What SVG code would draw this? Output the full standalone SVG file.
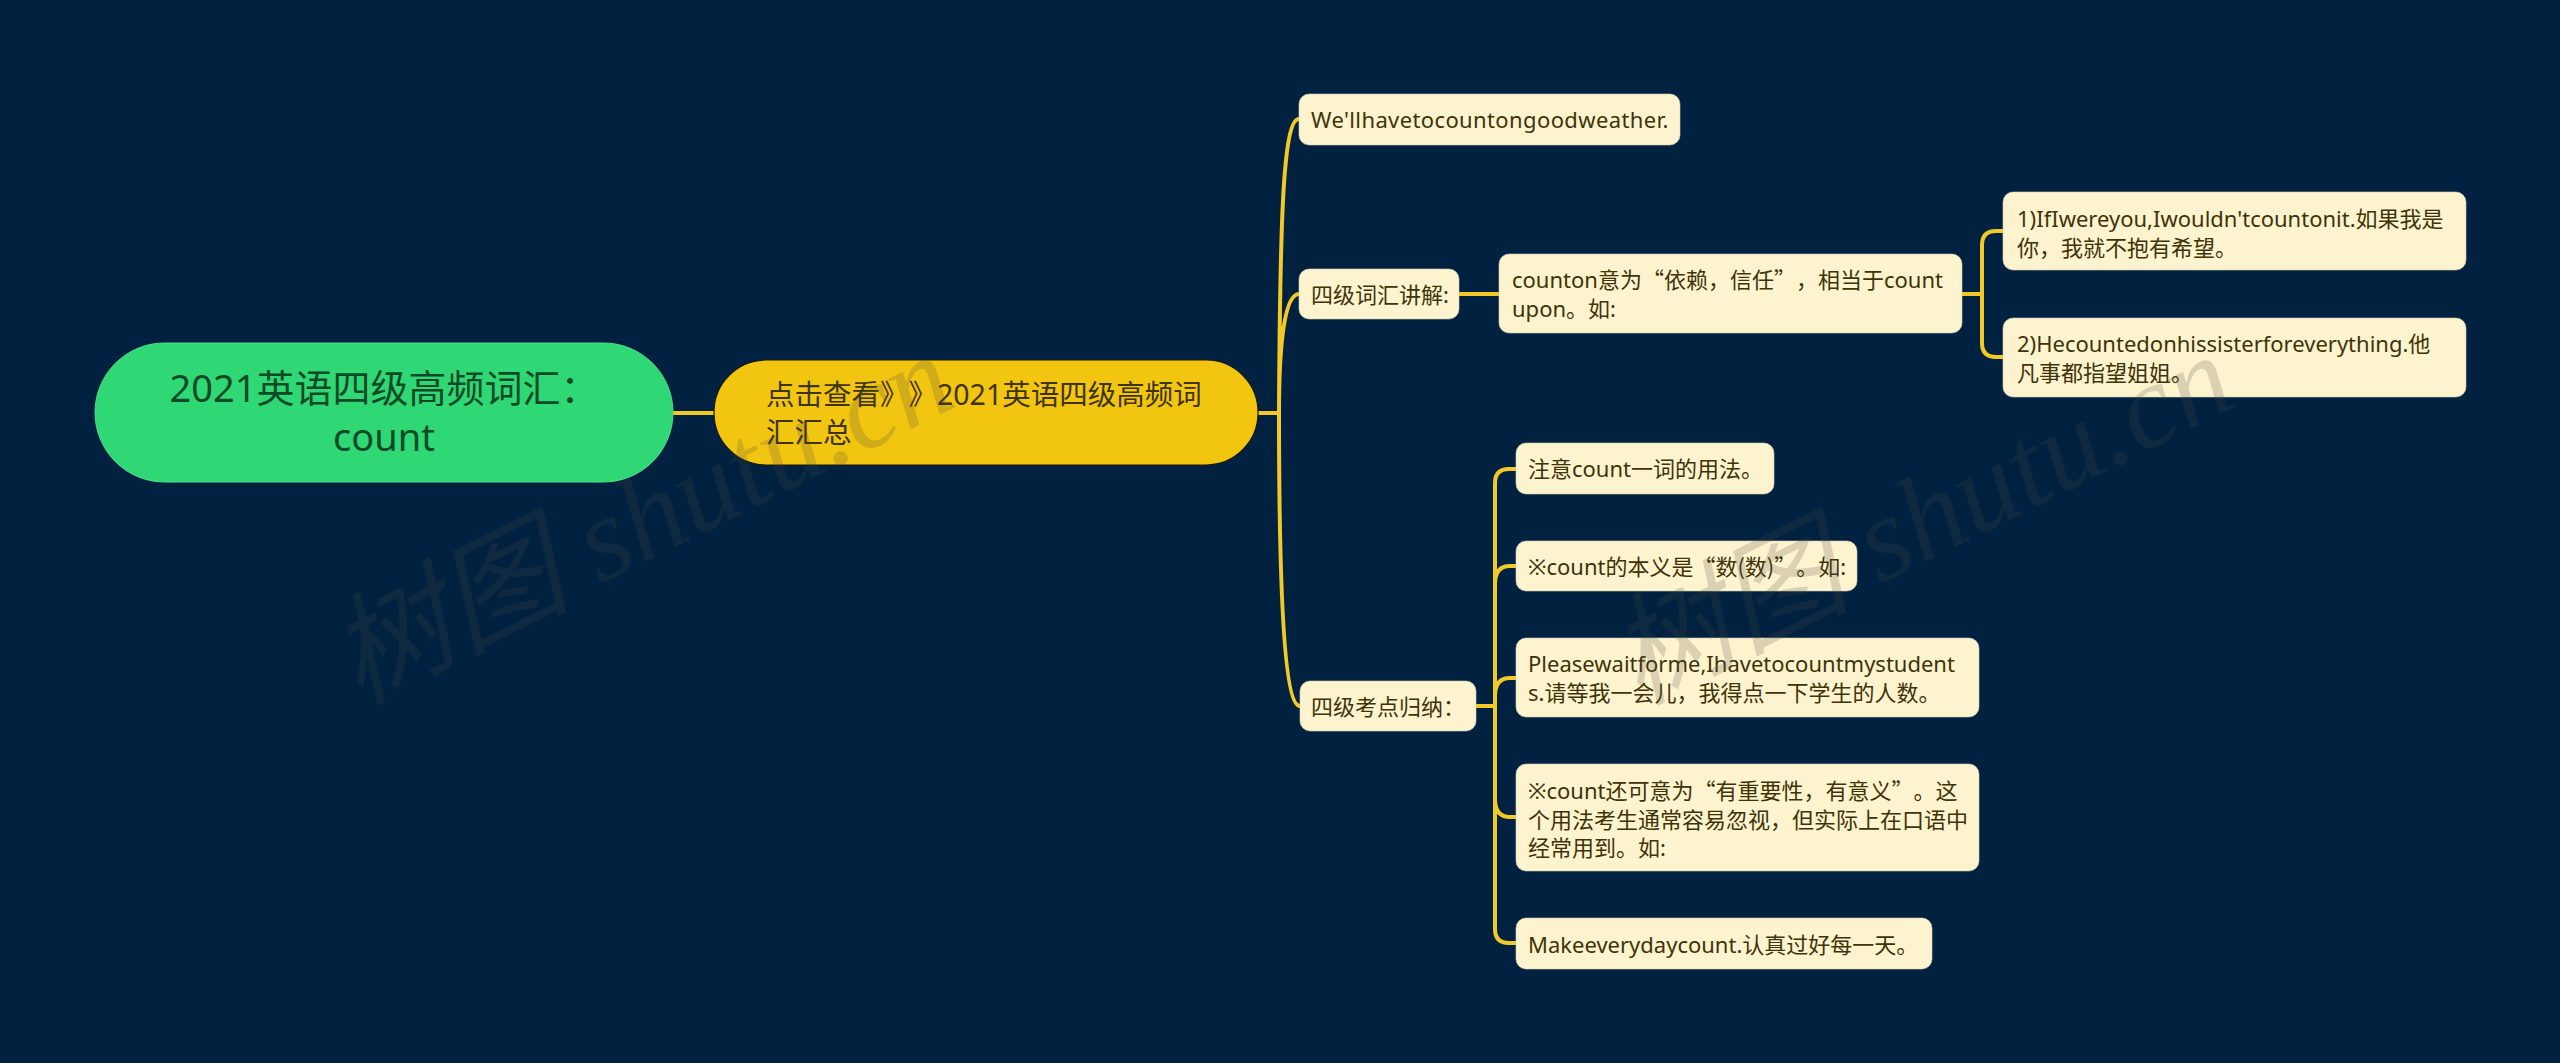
<svg xmlns="http://www.w3.org/2000/svg" width="2560" height="1063" viewBox="0 0 2560 1063">
<style>
text{font-family:"Noto Sans","Noto Sans CJK SC",sans-serif;text-spacing-trim:space-all}
.c{font-family:"Noto Sans CJK SC",sans-serif}
.n{fill:#fdf3cf;stroke:#d8d0b0;stroke-width:.6}
.t{font-size:22px;fill:#3f3308}
.l{fill:none;stroke:#f2c927;stroke-width:4}
.w{font-family:"Liberation Serif","Noto Sans CJK SC",serif;font-style:italic;font-size:120px;fill:#4a4a40;fill-opacity:.2}
</style>
<rect width="2560" height="1063" fill="#002240"/>
<g id="connectors">
<path class="l" d="M673 413H714M1258 413H1279"/>
<path class="l" d="M1279 413C1280 220 1283 119 1299 119M1279 413C1279 340 1285 294 1299 294M1279 413C1279 600 1285 706 1300 706"/>
<path class="l" d="M1459 294H1499M1962 294H1982M2003 231H1996Q1982 231 1982 245V343Q1982 357 1996 357H2003"/>
<path class="l" d="M1476 706H1495M1516 469H1509Q1495 469 1495 483V929Q1495 943 1509 943H1516M1516 566H1510Q1495 566 1495 584M1516 678H1510Q1495 678 1495 696M1516 817H1510Q1495 817 1495 799"/>
</g>
<g id="root"><rect x="95" y="343" width="578" height="139" rx="69.5" fill="#2fd874" stroke="#4fdf8a"/>
<text x="384" y="402" text-anchor="middle" font-size="38" fill="#0f4a26">2021英语四级高频词汇：</text>
<text x="384" y="451" text-anchor="middle" font-size="38" fill="#0f4a26">count</text></g>
<g id="summary"><rect x="714" y="360" width="544" height="105" rx="52" fill="#f2c511" stroke="#1a1a10" stroke-width="1.2"/>
<text x="766" y="405" font-size="28.5" fill="#3f3308">点击查看》》2021英语四级高频词</text>
<text x="766" y="443" font-size="28.5" fill="#3f3308">汇汇总</text></g>
<g id="n1"><rect class="n" x="1299" y="94" width="381" height="51" rx="10"/><text class="t" x="1311" y="128" letter-spacing=".38">We'llhavetocountongoodweather.</text></g>
<g id="n2"><rect class="n" x="1299" y="269" width="160" height="50" rx="10"/><text class="t" x="1311" y="303">四级词汇讲解:</text></g>
<g id="n3"><rect class="n" x="1499" y="254" width="463" height="79" rx="10"/><text class="t" x="1512" y="288">counton意为<tspan class="c">“依赖，信任”，</tspan>相当于count</text><text class="t" x="1512" y="317">upon。如:</text></g>
<g id="n4"><rect class="n" x="2003" y="192" width="463" height="78" rx="10"/><text class="t" x="2017" y="227">1)IfIwereyou,Iwouldn'tcountonit.如果我是</text><text class="t" x="2017" y="256">你，我就不抱有希望。</text></g>
<g id="n5"><rect class="n" x="2003" y="318" width="463" height="79" rx="10"/><text class="t" x="2017" y="352">2)Hecountedonhissisterforeverything.他</text><text class="t" x="2017" y="381">凡事都指望姐姐。</text></g>
<g id="n6"><rect class="n" x="1300" y="681" width="176" height="50" rx="10"/><text class="t" x="1311" y="715">四级考点归纳：</text></g>
<g id="n7"><rect class="n" x="1516" y="443" width="258" height="51" rx="10"/><text class="t" x="1528" y="477">注意count一词的用法。</text></g>
<g id="n8"><rect class="n" x="1516" y="541" width="341" height="50" rx="10"/><text class="t" x="1528" y="575">※count的本义是<tspan class="c">“数(数)”。</tspan>如:</text></g>
<g id="n9"><rect class="n" x="1516" y="638" width="463" height="79" rx="10"/><text class="t" x="1528" y="672">Pleasewaitforme,Ihavetocountmystudent</text><text class="t" x="1528" y="701">s.请等我一会儿，我得点一下学生的人数。</text></g>
<g id="n10"><rect class="n" x="1516" y="764" width="463" height="107" rx="10"/><text class="t" x="1528" y="799">※count还可意为<tspan class="c">“有重要性，有意义”。</tspan>这</text><text class="t" x="1528" y="828">个用法考生通常容易忽视，但实际上在口语中</text><text class="t" x="1528" y="856">经常用到。如:</text></g>
<g id="n11"><rect class="n" x="1516" y="918" width="416" height="51" rx="10"/><text class="t" x="1528" y="953">Makeeverydaycount.认真过好每一天。</text></g>
<g id="watermarks">
<text class="w" transform="translate(358 705) rotate(-26.5)">树图 shutu.cn</text>
<text class="w" transform="translate(1638 705) rotate(-26.5)">树图 shutu.cn</text>
</g>
</svg>
